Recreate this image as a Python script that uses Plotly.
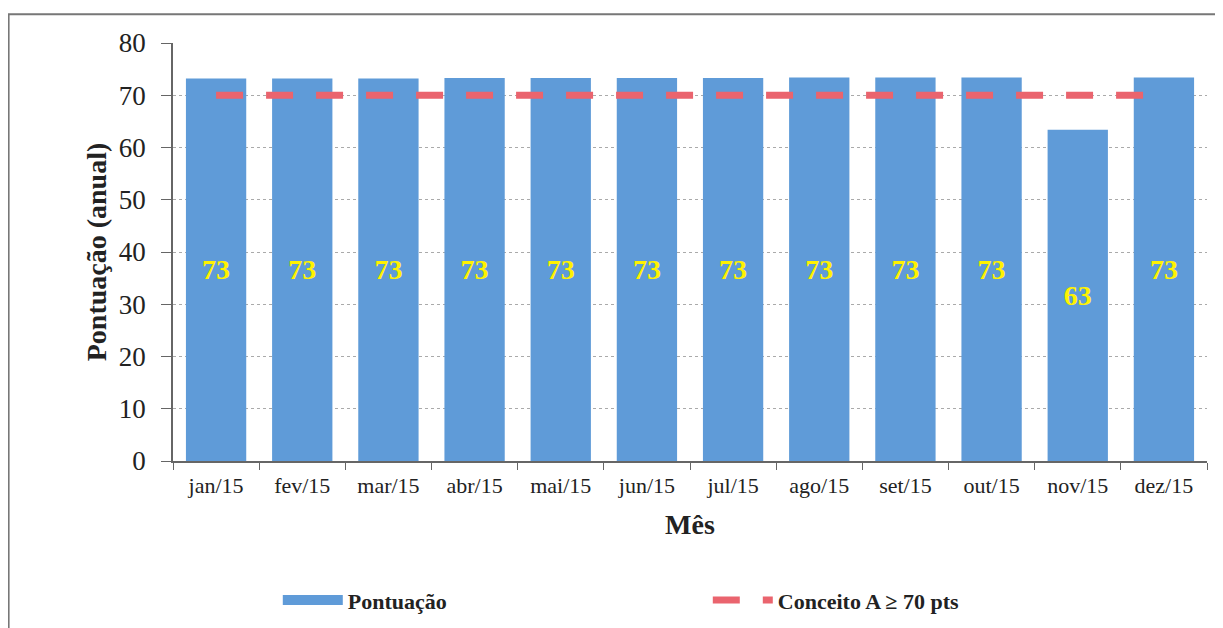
import plotly.graph_objects as go

months = ["jan/15", "fev/15", "mar/15", "abr/15", "mai/15", "jun/15",
          "jul/15", "ago/15", "set/15", "out/15", "nov/15", "dez/15"]
pontuacao = [73.2, 73.2, 73.2, 73.3, 73.3, 73.3, 73.3, 73.4, 73.4, 73.4, 63.4, 73.4]
conceito = [70, 70, 70, 70, 70, 70, 70, 70, 70, 70, 70, 70]
labels = ["73", "73", "73", "73", "73", "73", "73", "73", "73", "73", "63", "73"]

SERIF = "Liberation Serif, Times New Roman, serif"
BLUE = "#5F9BD8"

fig = go.Figure()
fig.add_trace(go.Bar(
    x=months, y=pontuacao, name="Pontuação", showlegend=False,
    legendgroup="p",
    marker=dict(color=BLUE, line=dict(width=0)),
    text=labels, textposition="inside", insidetextanchor="middle",
    textangle=0,
    textfont=dict(family=SERIF, size=28, color="#FFF200", weight="bold"),
))
# legend entry for the bars (wide rectangle swatch)
fig.add_trace(go.Scatter(
    x=[None], y=[None], name="Pontuação", mode="lines", legendgroup="p",
    line=dict(color=BLUE, width=11),
))
fig.add_trace(go.Scatter(
    x=months, y=conceito, name="Conceito A ≥ 70 pts", mode="lines",
    line=dict(color="#EA646E", width=7, dash="27px,23px"),
))

fig.update_layout(
    width=1223, height=628,
    margin=dict(l=165, r=24, t=35, b=175, autoexpand=False),
    paper_bgcolor="white", plot_bgcolor="white",
    bargap=0.3,
    font=dict(family=SERIF, color="#222"),
    showlegend=True,
    legend=dict(orientation="h", xref="container", yref="container",
                x=0.2206, xanchor="left", y=0.057, yanchor="middle",
                font=dict(family=SERIF, size=22, color="#222", weight="bold"),
                entrywidth=355, entrywidthmode="pixels", bgcolor="rgba(0,0,0,0)",
                itemwidth=60, traceorder="normal"),
    shapes=[dict(type="rect", xref="paper", yref="paper",
                 x0=-0.159, x1=1.05, y0=-0.5, y1=1.069,
                 line=dict(color="#777", width=2), layer="below")],
)

fig.update_xaxes(
    automargin=False,
    showline=True, linecolor="#666", linewidth=1.5,
    ticks="outside", ticklen=7, tickcolor="#666", tickson="boundaries",
    tickfont=dict(family=SERIF, size=22, color="#222"),
    ticklabelstandoff=4,
    title=dict(text="Mês", font=dict(family=SERIF, size=28, color="#222", weight="bold"), standoff=17),
    showgrid=False,
)
fig.update_yaxes(
    automargin=False,
    range=[0, 80], dtick=10,
    showline=True, linecolor="#666", linewidth=1.5,
    ticks="outside", ticklen=10, tickcolor="#666",
    tickfont=dict(family=SERIF, size=27, color="#222"),
    ticklabelstandoff=10,
    showgrid=True, gridcolor="#aaaaaa", gridwidth=1, griddash="dot",
    zeroline=False,
    title=dict(text="Pontuação (anual)", font=dict(family=SERIF, size=28, color="#222", weight="bold"), standoff=4),
)

fig.write_html("out.html")
